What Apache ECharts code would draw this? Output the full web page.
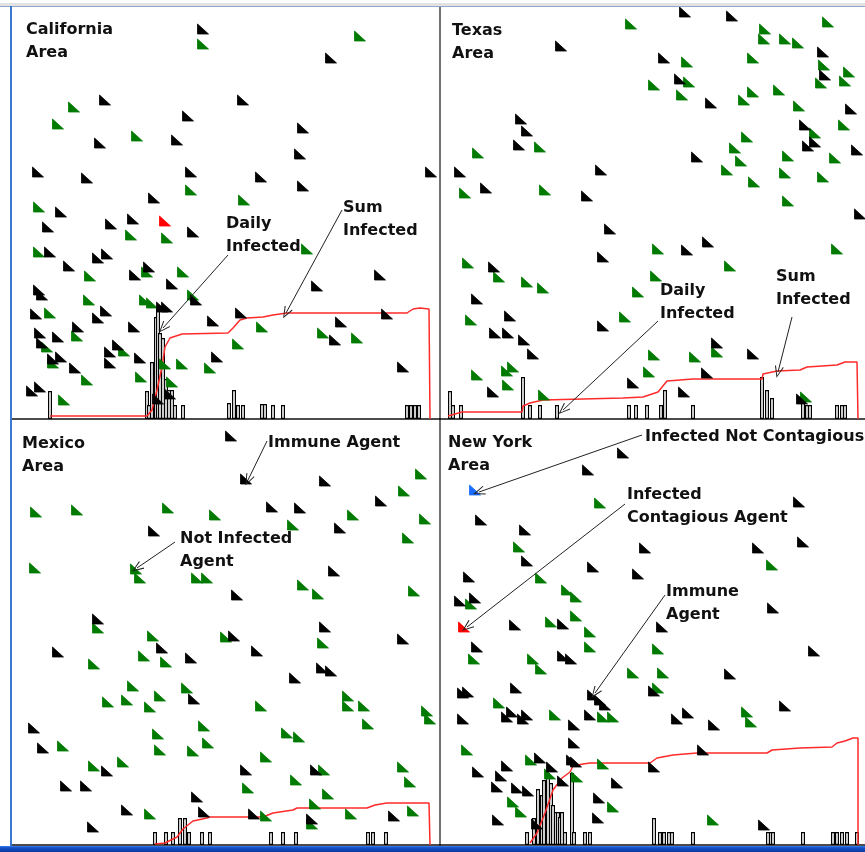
<!DOCTYPE html>
<html><head><meta charset="utf-8">
<script src="https://cdn.jsdelivr.net/npm/echarts@6/dist/echarts.min.js"></script>
<style>html,body{margin:0;padding:0;background:#fff}#c{width:865px;height:852px}</style>
</head><body><div id="c"></div>
<script>
// ---------- California ----------
const caImmune = [[191,390],[319,361],[93,319],[231,319],[176,303],[291,291],[88,276],[165,279],[288,265],[26,247],[75,241],[179,247],[249,242],[291,233],[419,247],[142,221],[49,207],[36,192],[99,195],[121,200],[181,187],[38,167],[86,161],[95,165],[57,153],[137,152],[123,144],[160,135],[27,129],[30,124],[150,112],[155,112],[184,119],[24,105],[86,101],[94,108],[122,92],[66,92],[28,86],[30,76],[46,82],[98,67],[106,74],[98,56],[41,60],[49,62],[63,51],[128,61],[205,62],[201,98],[229,106],[305,133],[368,144],[329,97],[323,79],[375,105],[391,52],[20,28],[28,32],[146,20],[158,25]];
const caNotInfected = [[191,375],[348,383],[62,312],[46,295],[125,283],[179,229],[232,219],[27,212],[119,184],[155,181],[27,167],[135,147],[78,143],[171,147],[295,170],[77,119],[133,119],[140,116],[181,124],[38,106],[65,83],[35,72],[112,68],[41,56],[75,39],[129,42],[153,55],[170,55],[198,51],[160,37],[226,75],[250,92],[311,86],[345,81],[52,19]];
const caContagious = [[153,198]];
const caNotContagious = [];
const caDaily = [[38,28],[135,28],[137,14],[140,57],[144,102],[146,110],[148,86],[151,81],[154,40],[157,29],[160,29],[163,14],[171,14],[217,16],[222,29],[226,14],[231,14],[250,15],[253,15],[261,14],[271,14],[395,14],[399,14],[403,14],[407,14]];
const caSum = [[38,3],[135,3],[140,9],[145,29],[150,52],[153,72],[158,81],[170,85],[216,86],[221,91],[228,99],[235,101],[251,102],[261,104],[275,106],[395,106],[401,110],[408,111],[417,110],[418,0]];

// ---------- Texas ----------
const txImmune = [[245,407],[292,403],[121,373],[383,367],[224,361],[385,344],[240,340],[271,316],[411,310],[81,300],[87,288],[365,294],[79,274],[368,273],[375,277],[417,269],[257,262],[20,247],[161,249],[46,231],[147,223],[420,205],[170,190],[268,177],[247,169],[163,162],[54,152],[37,120],[70,103],[163,93],[55,86],[68,86],[84,79],[93,65],[277,76],[313,65],[267,46],[53,27],[193,36],[244,27],[362,20]];
const txNotInfected = [[191,395],[388,397],[325,390],[324,380],[345,380],[358,376],[247,357],[313,361],[384,354],[409,347],[249,337],[214,334],[381,336],[405,338],[242,324],[313,327],[339,329],[304,319],[359,313],[404,294],[375,286],[307,282],[100,272],[295,271],[38,266],[301,258],[348,263],[395,261],[287,249],[345,246],[383,242],[314,237],[25,226],[105,229],[348,218],[218,170],[397,170],[28,156],[59,142],[87,137],[103,131],[216,143],[290,153],[198,127],[31,99],[185,102],[277,67],[214,64],[255,62],[209,47],[37,44],[67,48],[73,52],[68,34],[104,24],[366,22]];
const txContagious = [];
const txNotContagious = [];
const txDaily = [[10,28],[13,14],[21,14],[83,42],[90,14],[100,14],[117,14],[189,14],[196,14],[207,14],[221,14],[225,29],[253,14],[322,42],[327,29],[332,21],[363,21],[367,14],[370,14],[397,14],[402,14],[405,14]];
const txSum = [[8,3],[22,7],[82,7],[83,13],[90,16],[103,19],[183,21],[203,22],[218,27],[227,38],[253,40],[322,40],[323,45],[337,48],[360,49],[367,52],[397,54],[405,57],[417,57],[418,0]];

// ---------- Mexico ----------
const mxImmune = [[219,409],[234,366],[313,364],[369,344],[260,338],[288,337],[328,317],[142,314],[322,274],[225,250],[86,226],[313,218],[222,209],[391,206],[46,193],[150,197],[179,187],[245,194],[310,177],[319,174],[283,167],[182,146],[22,117],[31,97],[95,74],[234,75],[304,75],[54,59],[74,59],[185,48],[115,35],[192,33],[242,31],[300,26],[382,29],[81,18]];
const mxNotInfected = [[409,371],[392,354],[24,333],[65,335],[156,337],[203,330],[341,330],[413,326],[281,320],[396,307],[23,277],[124,276],[128,267],[185,267],[195,267],[291,260],[306,251],[402,254],[86,217],[141,209],[214,208],[311,202],[132,189],[154,183],[82,181],[121,159],[175,157],[148,149],[96,143],[115,145],[138,138],[249,139],[336,149],[336,139],[352,139],[415,134],[418,126],[356,121],[192,119],[146,111],[275,112],[287,108],[51,99],[148,95],[181,94],[196,102],[254,88],[82,79],[111,83],[312,75],[391,78],[284,65],[236,57],[398,63],[316,51],[303,41],[138,31],[254,29],[300,21],[339,31],[401,34]];
const mxContagious = [];
const mxNotContagious = [];
const mxDaily = [[143,13],[154,13],[161,13],[168,27],[173,27],[177,13],[190,13],[198,13],[259,13],[271,13],[284,13],[356,13],[361,13],[374,13]];
const mxSum = [[143,1],[153,2],[165,8],[171,16],[181,24],[195,27],[198,28],[251,28],[261,32],[281,35],[285,37],[355,37],[363,40],[375,42],[417,42],[418,0]];

// ---------- New York ----------
const nyImmune = [[183,392],[148,375],[359,343],[41,325],[85,315],[205,297],[318,297],[363,303],[87,284],[153,278],[198,271],[29,268],[20,244],[35,247],[333,237],[75,220],[123,221],[222,218],[37,198],[123,189],[131,186],[374,194],[290,171],[23,152],[28,153],[76,157],[153,150],[160,145],[165,140],[214,154],[72,133],[67,128],[83,126],[87,130],[23,126],[150,130],[237,126],[248,132],[274,120],[345,139],[134,120],[134,102],[263,95],[38,73],[67,79],[100,87],[112,78],[132,85],[136,83],[214,78],[61,69],[123,64],[177,62],[57,58],[77,57],[88,54],[159,47],[58,25],[158,27],[97,21],[324,20]];
const nyNotInfected = [[160,342],[79,298],[332,280],[101,267],[127,255],[136,248],[31,241],[136,229],[111,223],[150,213],[150,198],[34,186],[93,186],[101,176],[218,196],[193,172],[223,172],[218,157],[59,142],[115,130],[163,128],[173,128],[307,133],[311,123],[27,95],[91,85],[163,81],[110,71],[137,68],[73,43],[81,33],[173,38],[273,25]];
const nyContagious = [[24,218]];
const nyNotContagious = [[35,355]];
const nyDaily = [[87,13],[94,27],[97,27],[98,56],[102,50],[104,65],[107,28],[108,72],[111,62],[113,40],[116,33],[118,33],[120,28],[122,33],[125,13],[132,72],[134,13],[145,13],[150,13],[214,27],[220,13],[224,13],[229,13],[232,13],[253,13],[328,13],[331,13],[333,13],[363,13],[393,13],[397,13],[402,13],[407,13],[417,13]];
const nySum = [[90,2],[97,12],[105,32],[113,55],[122,67],[130,73],[133,79],[143,81],[150,82],[210,82],[217,87],[233,90],[257,92],[327,92],[332,95],[360,97],[392,98],[397,102],[405,104],[413,107],[418,107],[418,0]];

// ---------- annotation arrows (from text -> target, panel units) ----------
const caArrows = [[216,164,151,91],[330,209,274,106]];
const txArrows = [[218,98,123,9],[352,102,338,47]];
const mxArrows = [[255,404,236,365],[163,303,125,277]];
const nyArrows = [[202,410,39,353],[185,341,27,218],[225,250,155,152]];

const areaTitles = ['California\nArea','Texas\nArea','Mexico\nArea','New York\nArea'];

const chart = echarts.init(document.getElementById('c'), null, {renderer:'canvas'});
const grids = [
  {left:12, top:7, width:428, height:412, xmax:428, ymax:412},
  {left:440, top:7, width:425, height:412, xmax:425, ymax:412},
  {left:12, top:419, width:428, height:426, xmax:428, ymax:426},
  {left:440, top:419, width:425, height:426, xmax:425, ymax:426}
];
const panelData = [
  [caImmune, caNotInfected, caContagious, caNotContagious, caDaily, caSum, caArrows],
  [txImmune, txNotInfected, txContagious, txNotContagious, txDaily, txSum, txArrows],
  [mxImmune, mxNotInfected, mxContagious, mxNotContagious, mxDaily, mxSum, mxArrows],
  [nyImmune, nyNotInfected, nyContagious, nyNotContagious, nyDaily, nySum, nyArrows]
];
const tri = 'path://M0,0L0,10L10,10Z';
const arrowHead = 'path://M5,0L10,12L9,12.6L5,2.6L1,12.6L0,12Z';
const series = [];
panelData.forEach((p, i) => {
  const [imm, ni, con, ncon, daily, sum, arrows] = p;
  series.push({type:'bar', xAxisIndex:i, yAxisIndex:i, data:daily, barWidth:4, silent:true, z:1,
    itemStyle:{color:'#fff', borderColor:'#000', borderWidth:1.2}});
  series.push({type:'line', xAxisIndex:i, yAxisIndex:i, data:sum, symbol:'none', silent:true, z:2,
    lineStyle:{color:'#ff2a2a', width:1.5},
    markLine:{silent:true, symbol:['none', arrowHead], symbolSize:[9,12], animation:false,
      label:{show:false}, lineStyle:{color:'#222', width:1, type:'solid'},
      data: arrows.map(a => [{coord:[a[0],a[1]]},{coord:[a[2],a[3]]}])}});
  const sc = (d, c) => ({type:'scatter', xAxisIndex:i, yAxisIndex:i, data:d, symbol:tri, symbolSize:[11,10],
    silent:true, z:3, itemStyle:{color:c, borderColor:c, borderWidth:0.8, opacity:1}});
  series.push(sc(ni, '#007a00'));
  series.push(sc(imm, '#000000'));
  series.push(sc(con, '#ff0000'));
  series.push(sc(ncon, '#1a6cff'));
});

const font = 'bold 16px "DejaVu Sans"';
const txt = (s, l, t) => ({type:'text', left:l, top:t, z:50, silent:true,
  style:{text:s, font:font, fill:'#111', lineHeight:23}});

chart.setOption({
  animation:false,
  backgroundColor:'#ffffff',
  grid: grids.map(g => ({left:g.left, top:g.top, width:g.width, height:g.height, containLabel:false})),
  xAxis: grids.map((g,i) => ({type:'value', gridIndex:i, min:0, max:g.xmax,
    axisLine:{show:true, onZero:false, lineStyle:{color:'#111', width:1.5}},
    axisTick:{show:false}, axisLabel:{show:false}, splitLine:{show:false}})),
  yAxis: grids.map((g,i) => ({type:'value', gridIndex:i, min:0, max:g.ymax,
    axisLine:{show:(i===1||i===3), onZero:false, lineStyle:{color:'#444', width:1.5}},
    axisTick:{show:false}, axisLabel:{show:false}, splitLine:{show:false}})),
  series: series,
  graphic: [
    {type:'rect', shape:{x:0, y:3, width:865, height:3}, style:{fill:'#e2e2e2'}, silent:true, z:40},
    {type:'rect', shape:{x:0, y:6, width:865, height:1}, style:{fill:'#8fa9cc'}, silent:true, z:40},
    {type:'rect', shape:{x:10, y:6, width:2, height:842}, style:{fill:'#3b78d0'}, silent:true, z:40},
    {type:'rect', shape:{x:0, y:846, width:865, height:6}, silent:true, z:40,
      style:{fill:new echarts.graphic.LinearGradient(0,0,0,1,[{offset:0,color:'#3a80f0'},{offset:0.3,color:'#1450c8'},{offset:1,color:'#0a3aa0'}])}},
    txt(areaTitles[0], 26, 18),
    txt(areaTitles[1], 452, 19),
    txt(areaTitles[2], 22, 432),
    txt(areaTitles[3], 448, 431),
    txt('Daily\nInfected', 226, 212),
    txt('Sum\nInfected', 343, 196),
    txt('Daily\nInfected', 660, 279),
    txt('Sum\nInfected', 776, 265),
    txt('Immune Agent', 268, 431),
    txt('Not Infected\nAgent', 180, 527),
    txt('Infected Not Contagious', 645, 425),
    txt('Infected\nContagious Agent', 627, 483),
    txt('Immune\nAgent', 666, 580)
  ]
});
</script></body></html>
